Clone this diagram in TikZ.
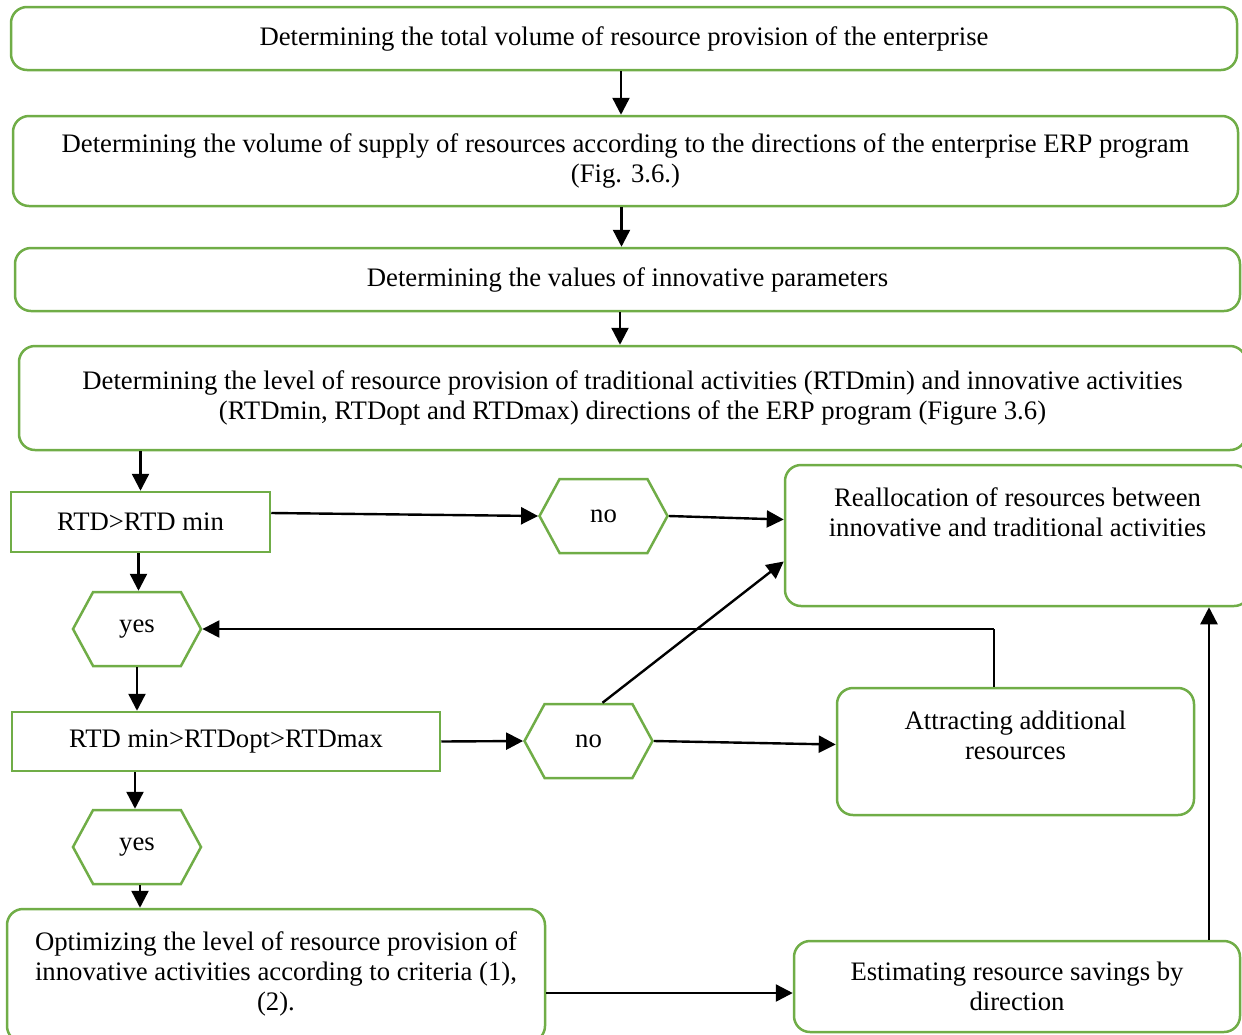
\documentclass[tikz,border=0pt]{standalone}
\usepackage{fontspec}
\setmainfont{Liberation Serif}
\usepackage{tikz}
\usetikzlibrary{arrows.meta,shapes.symbols}
\definecolor{boxedge}{RGB}{112,173,71}
\definecolor{flowline}{RGB}{0,0,0}

\begin{document}
\begin{tikzpicture}[x=0.5pt,y=-0.5pt,>={Triangle[length=8.5pt,width=8.5pt]},
  every node/.style={font=\fontsize{13.35}{15}\selectfont,align=center},
  stepbox/.style={draw=boxedge,line width=1.25pt,rounded corners=8pt,inner sep=0pt},
  toptext/.style={label={[anchor=north,inner sep=0pt,yshift=-12pt]north:{#1}}},
  condbox/.style={draw=boxedge,line width=1.25pt,inner sep=0pt},
  answer/.style={shape=signal,signal to=east and west,signal pointer angle=123,
    draw=boxedge,line width=1.25pt,minimum width=64pt,minimum height=37pt,inner sep=0pt},
  flow/.style={->,flowline,line width=1.2pt}]
  % --- page size (boxes on the right run off the page) ---
  \useasboundingbox (0,0) rectangle (1242,1034);

  % --- main chain ---
  \node[stepbox,minimum width=613pt,minimum height=31.5pt] (total) at (624,38.5)
    {Determining the total volume of resource provision of the enterprise};
  \node[stepbox,minimum width=612.5pt,minimum height=45pt] (supply) at (625.5,161)
    {Determining the volume of supply of resources according to the directions of the enterprise ERP program\\(Fig. 3.6.)};
  \node[stepbox,minimum width=612.5pt,minimum height=31.5pt] (params) at (627.5,279.5)
    {Determining the values of innovative parameters};
  \node[stepbox,minimum width=613.5pt,minimum height=52pt] (level) at (632.5,398)
    {Determining the level of resource provision of traditional activities (RTDmin) and innovative activities\\(RTDmin, RTDopt and RTDmax) directions of the ERP program (Figure 3.6)};

  % --- checks ---
  \node[condbox,minimum width=129.5pt,minimum height=30pt] (check1) at (140.5,522) {RTD>RTD min};
  \node[answer] (no1) at (603.5,516) {no};
  \node[answer] (yes1) at (137,629) {yes};
  \node[condbox,minimum width=214pt,minimum height=29.5pt] (check2) at (226,741.5) {RTD min>RTDopt>RTDmax};
  \node[answer] (no2) at (588.5,741) {no};
  \node[answer] (yes2) at (137,847) {yes};

  % --- actions (text sits at the top of the box) ---
  \node[stepbox,minimum width=232.5pt,minimum height=70.5pt,
    toptext={Reallocation of resources between\\innovative and traditional activities}]
    (realloc) at (1017.5,535.5) {};
  \node[stepbox,minimum width=178.5pt,minimum height=63.5pt,
    toptext={Attracting additional\\resources}]
    (attract) at (1015.5,751.5) {};
  \node[stepbox,minimum width=269pt,minimum height=66.5pt,
    toptext={Optimizing the level of resource provision of\\innovative activities according to criteria (1),\\(2).}]
    (optim) at (276,975.5) {};
  \node[stepbox,minimum width=223pt,minimum height=45.5pt] (saving) at (1017,986.5)
    {Estimating resource savings by\\direction};

  % --- connectors ---
  \draw[flow] ([xshift=-1.5pt]total.south) -- ([xshift=-1.5pt]total.south |- supply.north);
  \draw[flow] ([xshift=-2pt]supply.south) -- ([xshift=-2pt]supply.south |- params.north);
  \draw[flow] ([xshift=-3.75pt]params.south) -- ([xshift=-3.75pt]params.south |- level.north);
  \draw[flow] (check1.north |- level.south) -- (check1.north);
  \draw[flow] ([yshift=4.5pt]check1.east) -- (no1.west);
  \draw[flow] (no1.east) -- ([yshift=8pt]realloc.west);
  \draw[flow] ([xshift=-1pt]check1.south) -- ([xshift=-1pt]check1.south |- yes1.north);
  \coordinate (back) at (994,629);
  \draw[flowline,line width=0.6pt] (back |- attract.north) -- (back);
  \draw[flow] (back) -- (yes1.east);
  \draw[flow] (yes1.south) -- (yes1.south |- check2.north);
  \draw[flow] (check2.east) -- (no2.west);
  \draw[flow] (no2.east) -- ([yshift=3.5pt]attract.west);
  \draw[flow] ([xshift=7pt]no2.north) -- ([yshift=-13pt]realloc.west);
  \draw[flow] ([xshift=-1pt]yes2.north |- check2.south) -- ([xshift=-1pt]yes2.north);
  \draw[flow] ([xshift=1.5pt]yes2.south) -- ([xshift=1.5pt]yes2.south |- optim.north);
  \draw[flow] ([yshift=-3.25pt]saving.west -| optim.east) -- ([yshift=-3.25pt]saving.west);
  \draw[flow] ([xshift=96pt]saving.north) -- ([xshift=96pt]saving.north |- realloc.south);
\end{tikzpicture}
\end{document}
